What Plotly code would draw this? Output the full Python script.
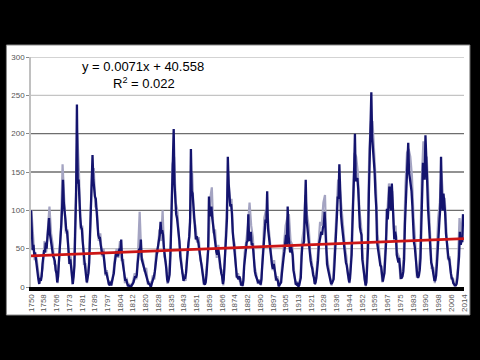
import plotly.graph_objects as go

# ---- data ----
years = list(range(1750, 2014))

# dark navy series: two readings per year (first half, second half)
navy = [
    100, 62, 48, 55, 42, 45, 35, 22, 12, 10, 4, 12, 8, 14, 30, 40, 48, 45, 58, 50,
    62, 72, 90, 70, 62, 58, 50, 40, 38, 34, 22, 18, 6, 14, 32, 45, 62, 82, 105, 140,
    110, 92, 88, 74, 72, 58, 38, 30, 36, 24, 6, 4, 14, 28, 75, 120, 238, 135, 140, 110,
    92, 78, 76, 60, 40, 36, 26, 18, 6, 12, 18, 32, 70, 100, 125, 172, 140, 122, 118, 115,
    95, 84, 68, 64, 64, 55, 50, 42, 46, 36, 24, 18, 18, 12, 6, 4, 2, 5, 4, 9,
    12, 18, 30, 38, 46, 44, 40, 46, 50, 46, 62, 38, 30, 24, 12, 8, 10, 5, 2, 2,
    0, 0, 1, 2, 4, 6, 10, 14, 12, 16, 30, 42, 50, 48, 62, 36, 32, 28, 26, 22,
    18, 12, 8, 5, 4, 3, 0, 3, 6, 11, 14, 20, 30, 44, 48, 54, 62, 68, 85, 70,
    74, 68, 52, 44, 30, 24, 10, 6, 10, 16, 40, 75, 110, 145, 206, 135, 112, 95, 90, 80,
    70, 60, 40, 33, 26, 20, 8, 12, 12, 18, 35, 46, 58, 66, 85, 180, 125, 122, 108, 88,
    72, 62, 66, 62, 58, 50, 42, 36, 24, 16, 8, 5, 3, 6, 16, 30, 48, 118, 92, 100,
    105, 90, 80, 74, 62, 56, 46, 42, 50, 44, 34, 28, 18, 14, 4, 10, 25, 50, 68, 90,
    170, 135, 118, 105, 108, 96, 72, 58, 50, 40, 20, 14, 12, 10, 14, 11, 3, 3, 2, 9,
    28, 38, 50, 58, 60, 95, 60, 70, 72, 56, 56, 48, 30, 20, 15, 11, 7, 6, 6, 8,
    3, 10, 28, 44, 66, 82, 88, 84, 125, 76, 68, 60, 45, 38, 28, 24, 30, 22, 14, 10,
    10, 8, 1, 3, 4, 6, 18, 32, 38, 46, 60, 68, 55, 105, 68, 58, 45, 54, 46, 42,
    22, 14, 6, 4, 3, 4, 1, 2, 7, 12, 40, 56, 55, 60, 100, 140, 88, 76, 66, 62,
    40, 34, 28, 24, 16, 12, 4, 6, 12, 22, 35, 55, 64, 66, 72, 68, 78, 80, 98, 68,
    40, 30, 24, 18, 12, 10, 4, 5, 7, 10, 28, 45, 70, 92, 118, 115, 160, 105, 95, 82,
    70, 64, 52, 44, 32, 28, 18, 14, 6, 11, 25, 42, 82, 108, 150, 200, 138, 140, 142, 128,
    92, 78, 72, 68, 36, 28, 16, 12, 2, 6, 25, 52, 122, 165, 182, 254, 195, 180, 168, 150,
    122, 104, 58, 50, 40, 35, 28, 27, 12, 7, 13, 18, 38, 58, 102, 88, 106, 131, 110, 100,
    135, 100, 70, 62, 72, 66, 42, 34, 32, 38, 16, 12, 12, 14, 20, 36, 82, 108, 152, 162,
    188, 150, 142, 140, 125, 106, 76, 58, 52, 40, 20, 15, 12, 15, 22, 38, 82, 122, 162, 155,
    140, 198, 150, 140, 105, 84, 60, 48, 32, 28, 20, 14, 8, 9, 15, 30, 52, 80, 86, 102,
    170, 118, 100, 122, 110, 96, 70, 56, 42, 38, 36, 24, 18, 12, 10, 5, 3, 2, 2, 4,
    12, 22, 40, 72, 55, 60, 60, 95,
]

# lighter grey series: one reading per year
grey = [
    100, 60, 35, 40, 20, 5, 15, 25, 60, 45, 75, 105, 70, 55, 30, 28, 5, 40, 75, 160,
    110, 70, 75, 30, 40, 3, 25, 100, 200, 150, 75, 80, 30, 30, 5, 30, 90, 150, 155, 105,
    100, 60, 70, 40, 50, 15, 22, 3, 8, 2, 20, 40, 50, 38, 60, 35, 35, 5, 12, 0,
    3, 0, 8, 18, 10, 45, 98, 40, 35, 20, 25, 3, 7, 0, 15, 10, 45, 45, 75, 60,
    100, 40, 32, 4, 20, 60, 160, 170, 110, 100, 60, 45, 18, 15, 8, 45, 55, 110, 150, 90,
    80, 58, 65, 35, 28, 3, 8, 30, 55, 115, 130, 70, 75, 38, 55, 25, 22, 2, 40, 100,
    150, 110, 115, 65, 55, 12, 18, 8, 6, 1, 45, 60, 80, 110, 80, 65, 28, 18, 4, 10,
    2, 40, 90, 100, 95, 70, 50, 22, 35, 8, 14, 0, 8, 30, 55, 80, 90, 95, 60, 55,
    25, 3, 7, 0, 15, 60, 75, 120, 95, 80, 45, 30, 18, 3, 25, 60, 85, 80, 110, 120,
    45, 28, 15, 2, 12, 50, 100, 140, 130, 100, 80, 55, 40, 15, 5, 45, 120, 175, 170, 150,
    100, 80, 40, 10, 1, 60, 180, 215, 215, 175, 135, 70, 45, 30, 6, 20, 65, 110, 135, 120,
    125, 75, 80, 45, 40, 10, 18, 40, 130, 175, 180, 170, 145, 90, 60, 12, 20, 45, 140, 190,
    160, 170, 120, 70, 25, 25, 5, 35, 90, 110, 150, 115, 115, 75, 35, 40, 10, 12, 1, 6,
    25, 90, 65, 95,
]

# linear trend shown on the chart: y = 0.0071x + 40.558 (x = month number)
trend_slope = 0.0071
trend_intercept = 40.558
trend_months = [1, 3169]

x_labels = ["1750", "1758", "1766", "1773", "1781", "1789", "1797", "1804", "1812",
            "1820", "1828", "1835", "1843", "1851", "1859", "1866", "1874", "1882",
            "1890", "1897", "1905", "1913", "1921", "1928", "1936", "1944", "1952",
            "1959", "1967", "1975", "1983", "1990", "1998", "2006", "2014"]
y_ticks = [0, 50, 100, 150, 200, 250, 300]

# ---- figure ----
navy_x = [y + h * 0.5 for y in years for h in (0, 1)]
grey_x = [y + 0.25 for y in years]
trend_x = [1750 + (m - 1) / 12 for m in trend_months]
trend_y = [trend_slope * m + trend_intercept for m in trend_months]
tick_pos = [1750 + i * 264 / (len(x_labels) - 1) for i in range(len(x_labels))]

fig = go.Figure()
fig.add_trace(go.Scatter(x=grey_x, y=grey, mode="lines",
                         line=dict(color="#a4a4c2", width=2.2), hoverinfo="skip"))
fig.add_trace(go.Scatter(x=navy_x, y=navy, mode="lines",
                         line=dict(color="#14146e", width=2.3), hoverinfo="skip"))
fig.add_trace(go.Scatter(x=trend_x, y=trend_y, mode="lines",
                         line=dict(color="#cc1616", width=2.6), hoverinfo="skip"))

shapes = []
# chart area box
shapes.append(dict(type="rect", xref="paper", yref="paper",
                   x0=(4 - 29) / 440, x1=(475 - 29) / 440,
                   y0=(287 - 315) / 230, y1=(287 - 45) / 230,
                   line=dict(color="#8a8a8a", width=1), fillcolor="white", layer="below"))
grid_colors = {50: "#c4c4c4", 100: "#6e6e6e", 150: "#6e6e6e", 200: "#6e6e6e",
               250: "#c4c4c4", 300: "#c4c4c4"}
for v in y_ticks[1:]:
    shapes.append(dict(type="line", xref="paper", yref="y", x0=0, x1=1, y0=v, y1=v,
                       line=dict(color=grid_colors[v], width=1.3), layer="below"))

fig.update_layout(
    width=480, height=360,
    paper_bgcolor="black", plot_bgcolor="white",
    margin=dict(l=29, r=11, t=57, b=73),
    showlegend=False,
    shapes=shapes,
    font=dict(family="Liberation Sans, Arial, sans-serif"),
    annotations=[
        dict(xref="paper", yref="paper", x=0.259, y=0.957, text="y = 0.0071x + 40.558",
             showarrow=False, font=dict(size=13, color="black"), xanchor="center",
             yanchor="middle"),
        dict(xref="paper", yref="paper", x=0.261, y=0.885, text="R<sup>2</sup> = 0.022",
             showarrow=False, font=dict(size=13, color="black"), xanchor="center",
             yanchor="middle"),
    ],
)
fig.update_xaxes(range=[1750, 2014], tickmode="array", tickvals=tick_pos,
                 ticktext=x_labels, tickangle=-90, showgrid=False, zeroline=False,
                 showline=True, linecolor="black", linewidth=4,
                 tickfont=dict(size=8, color="#555555"), ticks="")
fig.update_yaxes(range=[0, 300], tickmode="array", tickvals=y_ticks, showgrid=False,
                 zeroline=False, showline=True, linecolor="#c0c0c0", linewidth=1.5,
                 ticks="outside", ticklen=3, tickcolor="#888888",
                 tickfont=dict(size=8, color="#555555"))

fig.write_html("out.html",
               config={"displayModeBar": False},
               post_script="document.body.style.margin='0';"
                           "document.body.style.background='black';")
